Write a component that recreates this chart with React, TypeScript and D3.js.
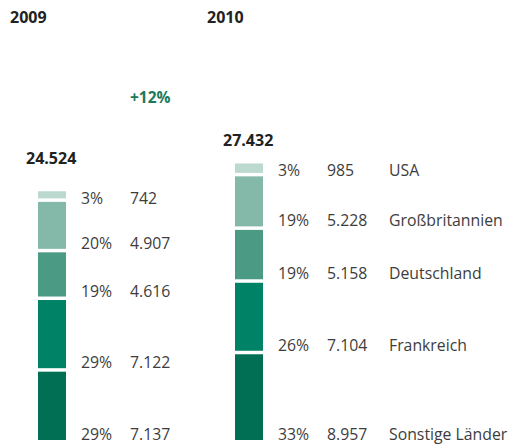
import React from "react";
import * as d3 from "d3";

const years = ["2009", "2010"];
const totals = ["24.524", "27.432"];
const change = "+12%";
const categories = ["USA", "Großbritannien", "Deutschland", "Frankreich", "Sonstige Länder"];
const values2009 = [742, 4907, 4616, 7122, 7137];
const values2010 = [985, 5228, 5158, 7104, 8957];
const pct2009 = ["3%", "20%", "19%", "29%", "29%"];
const pct2010 = ["3%", "19%", "19%", "26%", "33%"];
const fmt2009 = ["742", "4.907", "4.616", "7.122", "7.137"];
const fmt2010 = ["985", "5.228", "5.158", "7.104", "8.957"];
const colors = ["#bcd9cf", "#84b8a8", "#4b9a83", "#008266", "#006f53"];

const FONT = "'Open Sans', 'DejaVu Sans', sans-serif";

export default function App() {
  const W = 512, H = 448;
  const base = 440;
  const gap = 3.5;
  const y = d3.scaleLinear().domain([0, 28000]).range([0, 268]);

  const stacks = [
    { vals: values2009, pct: pct2009, fmt: fmt2009, x: 38, pctX: 81, valX: 130, nameX: null as number | null, totX: 26, totY: 164 },
    { vals: values2010, pct: pct2010, fmt: fmt2010, x: 235, pctX: 278, valX: 327, nameX: 389, totX: 223, totY: 146 },
  ];

  const barW = 28;
  const fs = 15.8;

  return (
    <svg width={W} height={H} style={{ position: "absolute", left: 0, top: 0 }} fontFamily={FONT}>
      <rect width={W} height={H} fill="#fff" />
      <text x={10} y={23} fontSize={16} fontWeight={700} fill="#222">{years[0]}</text>
      <text x={207} y={23} fontSize={16} fontWeight={700} fill="#222">{years[1]}</text>
      <text x={130} y={103} fontSize={15.5} fontWeight={700} fill="#1b7a5b">{change}</text>
      {stacks.map((s, si) => {
        const order = [4, 3, 2, 1, 0];
        let cum = 0;
        const segs: { i: number; top: number; bottom: number }[] = [];
        order.forEach((ci, k) => {
          const bottom = base - y(cum) - k * gap;
          cum += s.vals[ci];
          const top = base - y(cum) - k * gap;
          segs.push({ i: ci, top, bottom });
        });
        return (
          <g key={si}>
            <text x={s.totX} y={s.totY} fontSize={16} fontWeight={700} fill="#222">{totals[si]}</text>
            {segs.map((d) => {
              const ly = Math.max(d.bottom, d.top + 13);
              return (
                <g key={d.i}>
                  <rect x={s.x} y={d.top} width={barW} height={d.bottom - d.top} fill={colors[d.i]} />
                  <text x={s.pctX} y={ly} fontSize={fs} fill="#3d3d3d">{s.pct[d.i]}</text>
                  <text x={s.valX} y={ly} fontSize={fs} fill="#3d3d3d">{s.fmt[d.i]}</text>
                  {s.nameX !== null && (
                    <text x={s.nameX} y={ly} fontSize={fs} fill="#3d3d3d">{categories[d.i]}</text>
                  )}
                </g>
              );
            })}
          </g>
        );
      })}
    </svg>
  );
}
